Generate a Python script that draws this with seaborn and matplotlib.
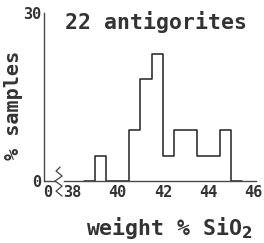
import numpy as np
import pandas as pd
import matplotlib
matplotlib.use('Agg')
import matplotlib.pyplot as plt
import seaborn as sns

# histogram: 0.5 wt% bins, percent of samples
bin_left = [38.5, 39.0, 39.5, 40.0, 40.5, 41.0, 41.5, 42.0, 42.5, 43.0, 43.5, 44.0, 44.5, 45.0]
pct = [0, 4.55, 0, 0, 9.1, 18.2, 22.7, 4.55, 9.1, 9.1, 4.55, 4.55, 9.1, 0]
xtick_pos = [36.92, 38, 40, 42, 44, 46]
xtick_lab = ['0', '38', '40', '42', '44', '46']
ytick_pos = [0, 10, 20, 30]
ytick_lab = ['0', '', '', '30']

df = pd.DataFrame({'sio2': np.array(bin_left) + 0.25, 'pct': pct})
edges = list(bin_left) + [bin_left[-1] + 0.5]

sns.set_style('white')
plt.rcParams['font.family'] = ['DejaVu Sans Mono', 'DejaVu Sans']
plt.rcParams['font.weight'] = 'bold'
ink = '#333333'
axc = '#4a4a4a'

fig = plt.figure(figsize=(2.64, 2.43), dpi=100)
ax = fig.add_axes([0.1667, 0.255, 0.803, 0.691])

sns.histplot(data=df, x='sio2', weights='pct', bins=edges, element='step',
             fill=False, color='#222222', linewidth=1.1, ax=ax)

ax.set_xlim(36.76, 46.1)
ax.set_ylim(0, 30)
sns.despine(ax=ax)
for s in ['left', 'bottom']:
    ax.spines[s].set_color(axc)
    ax.spines[s].set_linewidth(1.0)
    ax.spines[s].set_zorder(3)
ax.spines['bottom'].set_bounds(37.62, 46.1)

# axis break
ax.plot([36.76, 37.24], [0, 0], color=axc, lw=1.0, clip_on=False)
ax.plot([37.47, 37.29, 37.56, 37.24, 37.56, 37.29, 37.56],
        [2.5, 1.8, 0.9, 0.0, -0.9, -1.8, -2.7], color='#444444', lw=0.9, clip_on=False)

ax.set_xticks(xtick_pos)
ax.set_xticklabels(xtick_lab)
ax.set_yticks(ytick_pos)
ax.set_yticklabels(ytick_lab)
ax.tick_params(axis='both', direction='in', length=3, width=0.8, color=axc,
               labelsize=11, labelcolor=ink, pad=2)
ax.tick_params(axis='x', length=0, pad=3)

ax.set_xlabel('weight % SiO$_2$', fontsize=15.5, color=ink, fontweight='bold')
ax.xaxis.set_label_coords(0.59, -0.2)
ax.set_ylabel('% samples', fontsize=14.5, color=ink, fontweight='bold')
ax.yaxis.set_label_coords(-0.1, 0.45)
ax.text(0.53, 0.95, '22 antigorites', transform=ax.transAxes, ha='center', va='center',
        fontsize=15.5, color=ink, fontweight='bold')

fig.savefig('out.png', dpi=100)
